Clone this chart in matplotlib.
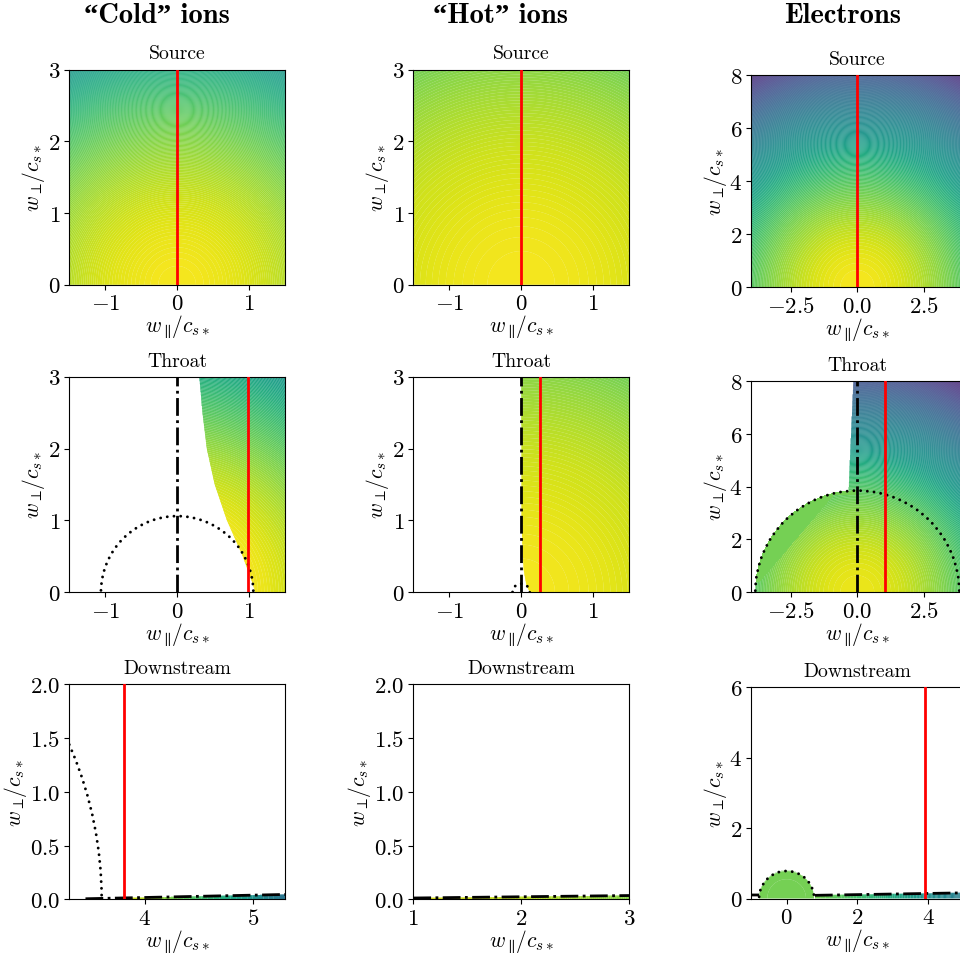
import numpy as np
import matplotlib
matplotlib.use("Agg")
import matplotlib.pyplot as plt
from matplotlib.patches import Circle

plt.rcParams['mathtext.fontset'] = 'cm'
plt.rcParams['font.family'] = ['cmr10', 'DejaVu Serif']
plt.rcParams['axes.formatter.use_mathtext'] = True

W, H = 960, 962
XLABEL = r'$w_{\parallel}\!/c_{s*}$'
YLABEL = r'$w_{\perp}\!/c_{s*}$'

column_titles = ['\u201cCold\u201d ions', '\u201cHot\u201d ions', 'Electrons']
column_title_x = [157, 500, 843]
row_titles = ['Source', 'Throat', 'Downstream']

# axes boxes in pixels: left, top, right, bottom
boxes = [
    [(69.3, 70.5, 285, 285.7), (413.3, 70.5, 629, 285.7), (751.3, 76, 963.3, 288)],
    [(69.3, 377.7, 285, 593.3), (413.3, 377.7, 629, 593.3), (751.3, 382, 963.3, 593.3)],
    [(69.3, 685.3, 285, 900.3), (413.3, 685.3, 629, 900.3), (751.3, 688, 963.3, 899.5)],
]
xlims = [[(-1.5, 1.5), (-1.5, 1.5), (-4, 4)],
         [(-1.5, 1.5), (-1.5, 1.5), (-4, 4)],
         [(3.3, 5.3), (1, 3), (-1, 5)]]
ylims = [[(0, 3), (0, 3), (0, 8)],
         [(0, 3), (0, 3), (0, 8)],
         [(0, 2), (0, 2), (0, 6)]]
xticks = [[[-1, 0, 1], [-1, 0, 1], [-2.5, 0, 2.5]],
          [[-1, 0, 1], [-1, 0, 1], [-2.5, 0, 2.5]],
          [[4, 5], [1, 2, 3], [0, 2, 4]]]
xticklabels = [[['-1', '0', '1'], ['-1', '0', '1'], ['-2.5', '0.0', '2.5']],
               [['-1', '0', '1'], ['-1', '0', '1'], ['-2.5', '0.0', '2.5']],
               [['4', '5'], ['1', '2', '3'], ['0', '2', '4']]]
yticks = [[[0, 1, 2, 3], [0, 1, 2, 3], [0, 2, 4, 6, 8]],
          [[0, 1, 2, 3], [0, 1, 2, 3], [0, 2, 4, 6, 8]],
          [[0, .5, 1, 1.5, 2], [0, .5, 1, 1.5, 2], [0, 2, 4, 6]]]
yticklabels = [[['0', '1', '2', '3'], ['0', '1', '2', '3'], ['0', '2', '4', '6', '8']],
               [['0', '1', '2', '3'], ['0', '1', '2', '3'], ['0', '2', '4', '6', '8']],
               [['0.0', '0.5', '1.0', '1.5', '2.0'], ['0.0', '0.5', '1.0', '1.5', '2.0'], ['0', '2', '4', '6']]]

# Colour level (viridis fraction)
cold_source_speed2 = [0, 11.25]
cold_source_level = [0.985, 0.53]
hot_source_speed2 = [0, 11.25]
hot_source_level = [0.985, 0.79]
elec_source_speed2 = [0, 7, 16, 29, 64, 80]
elec_source_level = [0.985, 0.87, 0.74, 0.56, 0.26, 0.11]
cold_throat_speed2 = [1.1, 11.25]
cold_throat_level = [0.985, 0.53]
hot_throat_speed2 = [0, 11.25]
hot_throat_level = [0.985, 0.79]
elec_throat_speed2 = [0, 7, 16, 29, 64, 80]
elec_throat_level = [0.97, 0.86, 0.73, 0.54, 0.24, 0.09]
cold_down_speed2 = [14.4, 20, 28]
cold_down_level = [0.96, 0.72, 0.38]
hot_down_speed2 = [1, 9]
hot_down_level = [0.95, 0.82]
elec_down_speed2 = [0.6, 6, 16, 25]
elec_down_level = [0.79, 0.66, 0.50, 0.42]

# Squared-speed step between neighbouring filled bands, per panel
band_step = [[0.068, 0.22, 0.4075],
             [0.105, 0.22, 0.4075],
             [0.5, 0.1, 0.3]]

# Left edge of the populated region in the throat panels
cold_edge_perp = [0, 0.12, 0.25, 0.5, 0.75, 1, 1.5, 2, 2.5, 3]
cold_edge_par = [1.08, 1.05, 1.0, 0.91, 0.80, 0.69, 0.52, 0.41, 0.35, 0.306]
hot_edge_perp = [0, 0.1, 0.3, 0.5, 1, 3]
hot_edge_par = [0.12, 0.07, 0.035, 0.02, 0.005, 0.0]
elec_edge_perp = [3.85, 8]
elec_edge_par = [-0.33, -0.15]

# Flat wedge on the left of the electron throat dome
elec_wedge_par = [-3.7, -0.9]
elec_wedge_perp = [0.4, 3.7]
elec_wedge_level = 0.79

# Separatrix radius (dotted)
dotted_radius = [[None, None, None], [1.06, 0.12, 3.85], [3.6, None, 0.78]]
# Red line position
red_x = [[0, 0, 0], [0.98, 0.26, 1.03], [3.81, None, 3.93]]
# Dash-dot curves
dash_x = [[None, None, None],
          [[0, 0], [0, 0], [0, 0]],
          [[3.45, 5.3], [1, 3], [-1, -0.78, np.nan, 0.8, 5]]]
dash_y = [[None, None, None],
          [[0, 3], [0, 3], [0, 8]],
          [[0.005, 0.045], [0.012, 0.035], [0.1, 0.1, np.nan, 0.09, 0.16]]]

N = 900
UNDER_ALPHA = 0.3
viridis = plt.get_cmap('viridis')


def filled(ax, gx, gy, mask, sp, lv, step):
    r2 = gx**2 + gy**2
    r2m = np.ma.masked_where(mask, r2)
    ext = (gx[0, 0], gx[0, -1], gy[0, 0], gy[-1, 0])
    under = np.ma.masked_where(mask, np.interp(r2, sp, lv))
    ax.imshow(under, origin='lower', extent=ext, aspect='auto', cmap='viridis',
              vmin=0, vmax=1, alpha=UNDER_ALPHA, interpolation='nearest', zorder=1)
    edges = np.arange(0, r2.max() + step, step)
    mids = 0.5 * (edges[:-1] + edges[1:])
    cols = viridis(np.interp(mids, sp, lv))
    ax.contourf(gx, gy, r2m, levels=edges, colors=cols, antialiased=True, zorder=1.5)


def grid(xl, yl):
    return np.meshgrid(np.linspace(*xl, N), np.linspace(*yl, N))


def px_axes(fig, box):
    l, t, r, b = box
    return fig.add_axes([l / W, 1 - b / H, (r - l) / W, (b - t) / H])


fig = plt.figure(figsize=(W / 100, H / 100), dpi=100)
axes = [[px_axes(fig, boxes[i][j]) for j in range(3)] for i in range(3)]

# Source row
for j, (sp, lv) in enumerate([(cold_source_speed2, cold_source_level),
                              (hot_source_speed2, hot_source_level),
                              (elec_source_speed2, elec_source_level)]):
    gx, gy = grid(xlims[0][j], ylims[0][j])
    filled(axes[0][j], gx, gy, np.zeros_like(gx, dtype=bool), sp, lv, band_step[0][j])

# Throat row
gx, gy = grid(xlims[1][0], ylims[1][0])
filled(axes[1][0], gx, gy, gx < np.interp(gy, cold_edge_perp, cold_edge_par),
       cold_throat_speed2, cold_throat_level, band_step[1][0])

gx, gy = grid(xlims[1][1], ylims[1][1])
filled(axes[1][1], gx, gy, gx < np.interp(gy, hot_edge_perp, hot_edge_par),
       hot_throat_speed2, hot_throat_level, band_step[1][1])

gx, gy = grid(xlims[1][2], ylims[1][2])
inside = gx**2 + gy**2 < dotted_radius[1][2]**2
upper = gx > np.interp(gy, elec_edge_perp, elec_edge_par)
wedge = inside & (gx < 0) & (gy > np.interp(gx, elec_wedge_par, elec_wedge_perp))
filled(axes[1][2], gx, gy, ~(inside | upper) | wedge,
       elec_throat_speed2, elec_throat_level, band_step[1][2])
axes[1][2].contourf(gx, gy, np.ma.masked_where(~wedge, gy), levels=[-1, 100],
                    colors=[viridis(elec_wedge_level)], zorder=1.5)

# Downstream row: thin strips under the dash-dot curve
gx, gy = grid(xlims[2][0], (0, 0.08))
mask = (gy > np.interp(gx, dash_x[2][0], dash_y[2][0])) | (gx < red_x[2][0] - 0.02)
filled(axes[2][0], gx, gy, mask, cold_down_speed2, cold_down_level, band_step[2][0])

gx, gy = grid(xlims[2][1], (0, 0.08))
mask = gy > np.interp(gx, dash_x[2][1], dash_y[2][1])
filled(axes[2][1], gx, gy, mask, hot_down_speed2, hot_down_level, band_step[2][1])

gx, gy = grid(xlims[2][2], (0, 1.0))
dome = gx**2 + gy**2 < dotted_radius[2][2]**2
strip = (gx > dash_x[2][2][3]) & (gy < np.interp(gx, dash_x[2][2][3:], dash_y[2][2][3:]))
filled(axes[2][2], gx, gy, ~(dome | strip), elec_down_speed2, elec_down_level, band_step[2][2])

for i in range(3):
    for j in range(3):
        ax = axes[i][j]
        ax.set_xlim(*xlims[i][j])
        ax.set_ylim(*ylims[i][j])
        ax.set_xticks(xticks[i][j])
        ax.set_xticklabels(['$%s$' % s for s in xticklabels[i][j]])
        ax.set_yticks(yticks[i][j])
        ax.set_yticklabels(['$%s$' % s for s in yticklabels[i][j]])
        ax.tick_params(labelsize=16.5, length=3.5, width=0.8, pad=3)
        ax.set_xlabel(XLABEL, fontsize=15.5, labelpad=0)
        ax.set_ylabel(YLABEL, fontsize=15.5, labelpad=0.5)
        ax.set_title(row_titles[i], fontsize=14.2, pad=8)
        if red_x[i][j] is not None:
            ax.axvline(red_x[i][j], color='red', lw=2, zorder=4)
        if dash_x[i][j] is not None:
            ax.plot(dash_x[i][j], dash_y[i][j], color='k', ls='-.', lw=2, zorder=3)
        if dotted_radius[i][j] is not None:
            ax.add_patch(Circle((0, 0), dotted_radius[i][j], fill=False, ec='k', lw=2.1,
                                ls=(0, (0.01, 2.3)), capstyle='round', zorder=3))

for x, t in zip(column_title_x, column_titles):
    fig.text(x / W, 1 - 16 / H, t, ha='center', va='center', fontsize=20.5,
             family=['cmb10', 'Liberation Serif'], fontweight='bold')

fig.savefig('out.png', dpi=100)
